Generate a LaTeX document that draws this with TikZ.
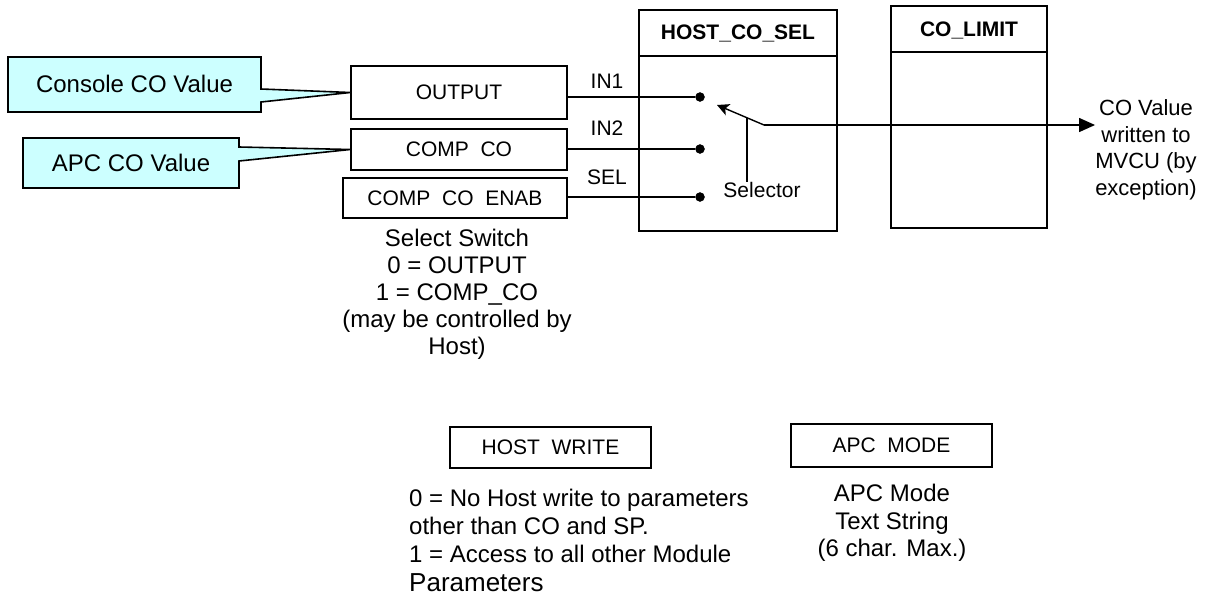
\documentclass[tikz,border=0pt]{standalone}
\usepackage{fontspec}
\setmainfont{Liberation Sans}
\usetikzlibrary{arrows.meta,calc}
\definecolor{calloutfill}{HTML}{CCFFFF}
\begin{document}
\begin{tikzpicture}[x=1pt,y=-1pt,
 box/.style={draw,line width=1.6pt,inner sep=0pt,font=\fontsize{21}{25}\selectfont},
 calloutbox/.style={draw,line width=1.6pt,fill=calloutfill,line join=miter},
 wire/.style={line width=1.4pt},
 lbl/.style={font=\fontsize{21}{25}\selectfont,inner sep=0pt},
 ttl/.style={font=\bfseries\fontsize{21}{25}\selectfont,inner sep=0pt},
 big/.style={font=\fontsize{24}{27}\selectfont,inner sep=0pt,align=center},
 dot/.style={circle,fill,draw,inner sep=0pt,minimum size=9pt},
]
\useasboundingbox (0,0) rectangle (1224,595);

% input boxes
\node[box,minimum width=216pt,minimum height=53pt] (out) at (459,92.5) {OUTPUT};
\node[box,minimum width=216pt,minimum height=41pt] (ccomp) at (459,149.5) {COMP\ \ CO};
\node[box,minimum width=224pt,minimum height=40pt] (cenab) at (455,198) {COMP\ \ CO\ \ ENAB};

% callouts
\draw[calloutbox] (8,57) -- (261,57) -- (261,89) -- (out.west) -- (261,102) -- (261,112) -- (8,112) -- cycle;
\node[big] (console) at (134.5,84) {Console CO Value};
\draw[calloutbox] (23,138) -- (239,138) -- (239,147) -- (ccomp.west) -- (239,161) -- (239,188) -- (23,188) -- cycle;
\node[big] (apc) at (131,163) {APC CO Value};

% blocks
\node[box,minimum width=198pt,minimum height=221pt] (hcs) at (738,120.5) {};
\draw[line width=1.6pt] ([yshift=-47pt]hcs.north west) -- ([yshift=-47pt]hcs.north east);
\node[ttl] (hcstitle) at (738,33) {HOST\_CO\_SEL};
\node[box,minimum width=156pt,minimum height=222pt] (col) at (969,117) {};
\draw[line width=1.6pt] ([yshift=-47pt]col.north west) -- ([yshift=-47pt]col.north east);
\node[ttl] (coltitle) at (969,30) {CO\_LIMIT};

% selector contacts
\node[dot] (d1) at (700,97) {};
\node[dot] (d2) at (700,149) {};
\node[dot] (d3) at (700,197) {};
\draw[wire] (out.east |- d1) -- (d1);
\draw[wire] (ccomp.east |- d2) -- (d2);
\draw[wire] (cenab.east |- d3) -- (d3);
\node[lbl] (in1) at (607,81) {IN1};
\node[lbl] (in2) at (607,128) {IN2};
\node[lbl] (sel) at (607,177) {SEL};

% switch
\coordinate (pivot) at (764,125);
\coordinate (swtip) at (717,105);
\draw[wire,-{Stealth[length=12pt,width=12pt,inset=3pt]}] (pivot) -- (swtip);
\node[lbl] (selector) at (762,190) {Selector};
\coordinate (selptr) at (747,118);
\draw[wire] (selptr) -- (selptr |- selector.north);

% output
\node[font=\fontsize{22}{26.5}\selectfont,inner sep=0pt,align=center] (covalue) at (1146,150) {CO Value\\written to\\MVCU (by\\exception)};
\draw[wire,-{Triangle[length=16pt,width=14pt]}] (pivot) -- (pivot -| covalue.west);

% select switch note
\node[big] (selnote) at (457,294) {Select Switch\\0 = OUTPUT\\1 = COMP\_CO\\(may be controlled by\\Host)};

% bottom boxes
\node[box,minimum width=201pt,minimum height=41pt] (hw) at (550.5,447.5) {HOST\ \ WRITE};
\node[font=\fontsize{24}{28.3}\selectfont,inner sep=0pt,align=left,anchor=west] (hwnote) at (409,540) {0 = No Host write to parameters\\other than CO and SP.\\1 = Access to all other Module\\{\fontsize{26}{28.3}\selectfont Parameters}};
\node[box,minimum width=201pt,minimum height=43pt] (am) at (891.5,445.5) {APC\ \ MODE};
\node[big,font=\fontsize{24}{27.5}\selectfont] (amnote) at (892,523) {APC Mode\\Text String\\(6 char. Max.)};
\end{tikzpicture}
\end{document}
